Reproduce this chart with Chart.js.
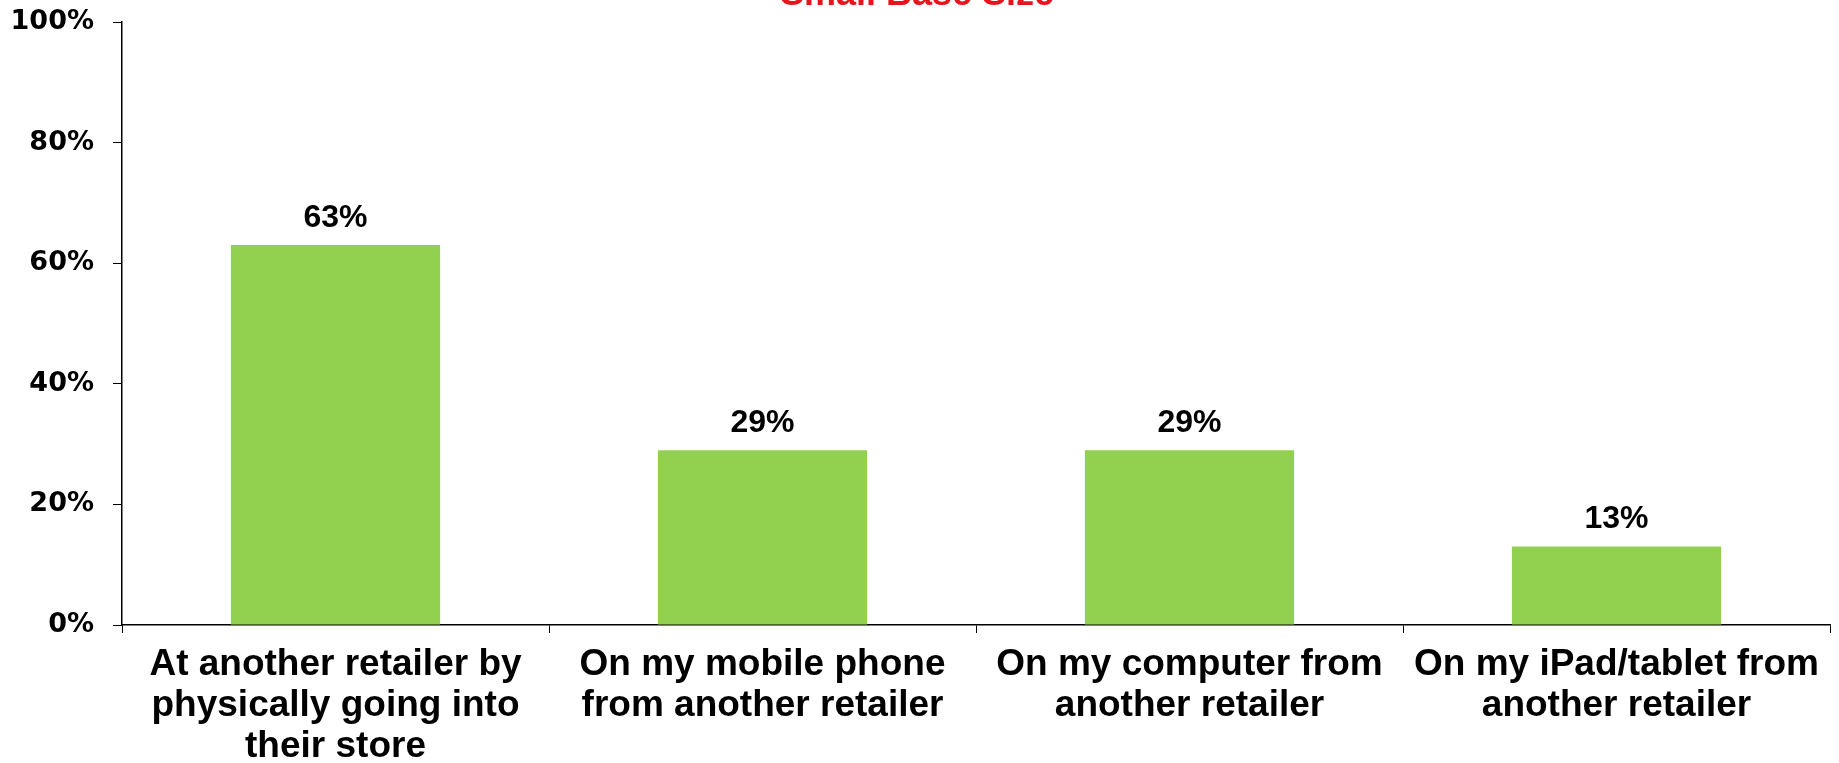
<!DOCTYPE html>
<html>
<head>
<meta charset="utf-8">
<script src="https://cdn.jsdelivr.net/npm/chart.js@4"></script>
<style>
  html, body { margin: 0; padding: 0; background: #fff; }
  #wrap { width: 1839px; height: 763px; position: relative; }
</style>
</head>
<body>
<div id="wrap"><canvas id="c"></canvas></div>
<script>
// where else shoppers bought (share of respondents)
const categories = [
  ["At another retailer by", "physically going into", "their store"],
  ["On my mobile phone", "from another retailer"],
  ["On my computer from", "another retailer"],
  ["On my iPad/tablet from", "another retailer"]
];
const shares = [63, 29, 29, 13];
const yTicks = [0, 20, 40, 60, 80, 100];
const note = "Small Base Size";

// value labels sitting above each bar
const barLabels = {
  id: "barLabels",
  afterDatasetsDraw(chart) {
    const { ctx } = chart;
    const meta = chart.getDatasetMeta(0);
    ctx.save();
    ctx.font = "bold 32px 'Liberation Sans', Arial, sans-serif";
    ctx.fillStyle = "#000";
    ctx.textAlign = "center";
    ctx.textBaseline = "middle";
    meta.data.forEach((bar, i) => {
      ctx.fillText(shares[i] + "%", bar.x, bar.y - 27);
    });
    ctx.restore();
  }
};

// red note along the top edge
const topNote = {
  id: "topNote",
  afterDraw(chart) {
    const { ctx } = chart;
    ctx.save();
    ctx.font = "bold 36px 'Liberation Sans', Arial, sans-serif";
    ctx.fillStyle = "#e8141c";
    ctx.textAlign = "center";
    ctx.textBaseline = "alphabetic";
    ctx.fillText(note, 917, 5);
    ctx.restore();
  }
};

new Chart(document.getElementById("c"), {
  type: "bar",
  data: {
    labels: categories,
    datasets: [{
      data: shares,
      backgroundColor: "#92d050",
      borderWidth: 0,
      barPercentage: 0.49,
      categoryPercentage: 1
    }]
  },
  options: {
    responsive: true,
    maintainAspectRatio: false,
    animation: false,
    layout: { padding: { top: 22, right: 9, left: 0, bottom: 0 } },
    plugins: { legend: { display: false }, tooltip: { enabled: false } },
    scales: {
      x: {
        offset: true,
        grid: { offset: true, drawOnChartArea: false, drawTicks: true, tickLength: 8, color: "#000", lineWidth: 1 },
        border: { color: "#000", width: 1.5 },
        ticks: {
          color: "#000",
          padding: 11,
          maxRotation: 0,
          autoSkip: false,
          font: { family: "'Liberation Sans', Arial, sans-serif", size: 37, weight: "bold", lineHeight: "41px" }
        },
        afterFit(s) { s.height = 138; s.paddingLeft = 0; s.paddingRight = 0; }
      },
      y: {
        min: 0,
        max: 100,
        afterBuildTicks(s) { s.ticks = yTicks.map((v) => ({ value: v })); },
        grid: { drawOnChartArea: false, drawTicks: true, tickLength: 9, color: "#000", lineWidth: 1 },
        border: { color: "#000", width: 1.5 },
        ticks: {
          color: "#000",
          padding: 19,
          callback: (v) => v + "%",
          font: { family: "'DejaVu Sans', sans-serif", size: 27, weight: "bold" }
        },
        afterFit(s) { s.width = 122; s.paddingTop = 0; s.paddingBottom = 0; }
      }
    }
  },
  plugins: [barLabels, topNote]
});
</script>
</body>
</html>
